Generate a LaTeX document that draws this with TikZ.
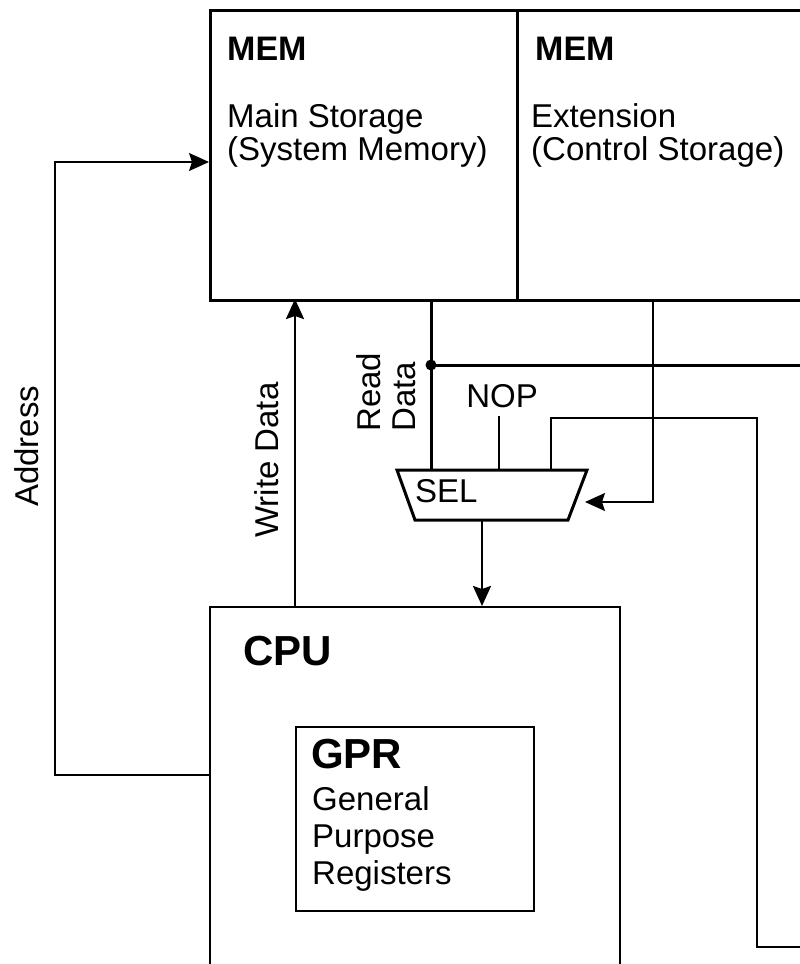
\documentclass[tikz,border=0pt]{standalone}
\usepackage{fontspec}
\setmainfont{Liberation Sans}
\usetikzlibrary{arrows.meta}
\tikzset{
  bigbox/.style={draw, line width=3pt, anchor=north west, inner sep=0pt},
  smallbox/.style={draw, line width=2pt, anchor=north west, inner sep=0pt},
  lbl/.style={font=\fontsize{33}{37}\selectfont, inner sep=0pt, anchor=base west},
  ttl/.style={font=\fontsize{34}{40}\selectfont\bfseries, inner sep=0pt, anchor=base west},
  bigttl/.style={font=\fontsize{42}{48}\selectfont\bfseries, inner sep=0pt, anchor=base west},
  vlbl/.style={lbl, rotate=90},
  wire/.style={line width=1.6pt},
  bus/.style={line width=3pt},
  wbus/.style={line width=2.5pt},
  arr/.style={-{Stealth[length=20pt,width=18pt,inset=3pt]}},
}
\begin{document}
\begin{tikzpicture}[x=1pt,y=-1pt]
\useasboundingbox (0,0) rectangle (800,964);
\fill[white] (0,0) rectangle (800,964);
\clip (0,0) rectangle (800,964);

% boxes
\node[bigbox, minimum width=307pt, minimum height=290pt] (memmain) at (209,9) {};
\node[bigbox, minimum width=330pt, minimum height=290pt] (memext) at (516,9) {};
\node[smallbox, minimum width=410pt, minimum height=400pt] (cpu) at (209,606) {};
\node[smallbox, minimum width=238pt, minimum height=184pt] (gpr) at (295,726) {};

% texts in boxes
\node[ttl] (t1) at (227,60) {MEM};
\node[lbl] (t2) at (227,127) {Main Storage};
\node[lbl] (t3) at (227,160) {(System Memory)};
\node[ttl] (t4) at (535,60) {MEM};
\node[lbl] (t5) at (531,127) {Extension};
\node[lbl] (t6) at (531,160) {(Control Storage)};
\node[bigttl] (t7) at (243,665) {CPU};
\node[bigttl] (t8) at (311,768) {GPR};
\node[lbl] (t9) at (312,810) {General};
\node[lbl] (t10) at (312,847) {Purpose};
\node[lbl] (t11) at (312,884) {Registers};

% selector
\coordinate (selTL) at (397,470);
\coordinate (selTR) at (587,470);
\coordinate (selBR) at (568,520);
\coordinate (selBL) at (415,520);
\draw[bus, line join=miter] (selTL) -- (selTR) -- (selBR) -- (selBL) -- cycle;
\node[lbl] (seltxt) at (415,502) {SEL};
\node[lbl, anchor=base] (nop) at (502,407) {NOP};

% coordinates
\coordinate (rdtop) at (431,299);
\coordinate (rdsel) at (431,470);
\coordinate (dot) at (431,365);
\coordinate (rdright) at (800,365);
\coordinate (noptop) at (499,416);
\coordinate (nopsel) at (499,470);
\coordinate (in3sel) at (551,470);
\coordinate (in3a) at (551,418);
\coordinate (in3b) at (757,418);
\coordinate (in3c) at (757,947);
\coordinate (in3d) at (800,947);
\coordinate (extsrc) at (653,299);
\coordinate (extcorner) at (653,502);
\coordinate (extdst) at (585,502);
\coordinate (selout) at (482,520);
\coordinate (cpuin) at (482,606);
\coordinate (wdsrc) at (295,606);
\coordinate (wddst) at (295,299);
\coordinate (adsrc) at (209,775);
\coordinate (ad1) at (55,775);
\coordinate (ad2) at (55,162);
\coordinate (addst) at (209,162);

% connectors
\draw[bus] (rdtop) -- (rdsel);
\draw[bus] (dot) -- (rdright);
\fill (dot) circle (5.5);
\draw[wire] (noptop) -- (nopsel);
\draw[wire] (in3sel) -- (in3a) -- (in3b) -- (in3c) -- (in3d);
\draw[wire, arr] (extsrc) -- (extcorner) -- (extdst);
\draw[wbus, arr] (selout) -- (cpuin);
\draw[wbus, arr] (wdsrc) -- (wddst);
\draw[wire, arr] (adsrc) -- (ad1) -- (ad2) -- (addst);

% rotated labels
\node[vlbl] (addr) at (38,507) {Address};
\node[vlbl] (wd) at (278,538) {Write Data};
\node[vlbl] (rd1) at (380,432) {Read};
\node[vlbl] (rd2) at (415,432) {Data};
\end{tikzpicture}
\end{document}
